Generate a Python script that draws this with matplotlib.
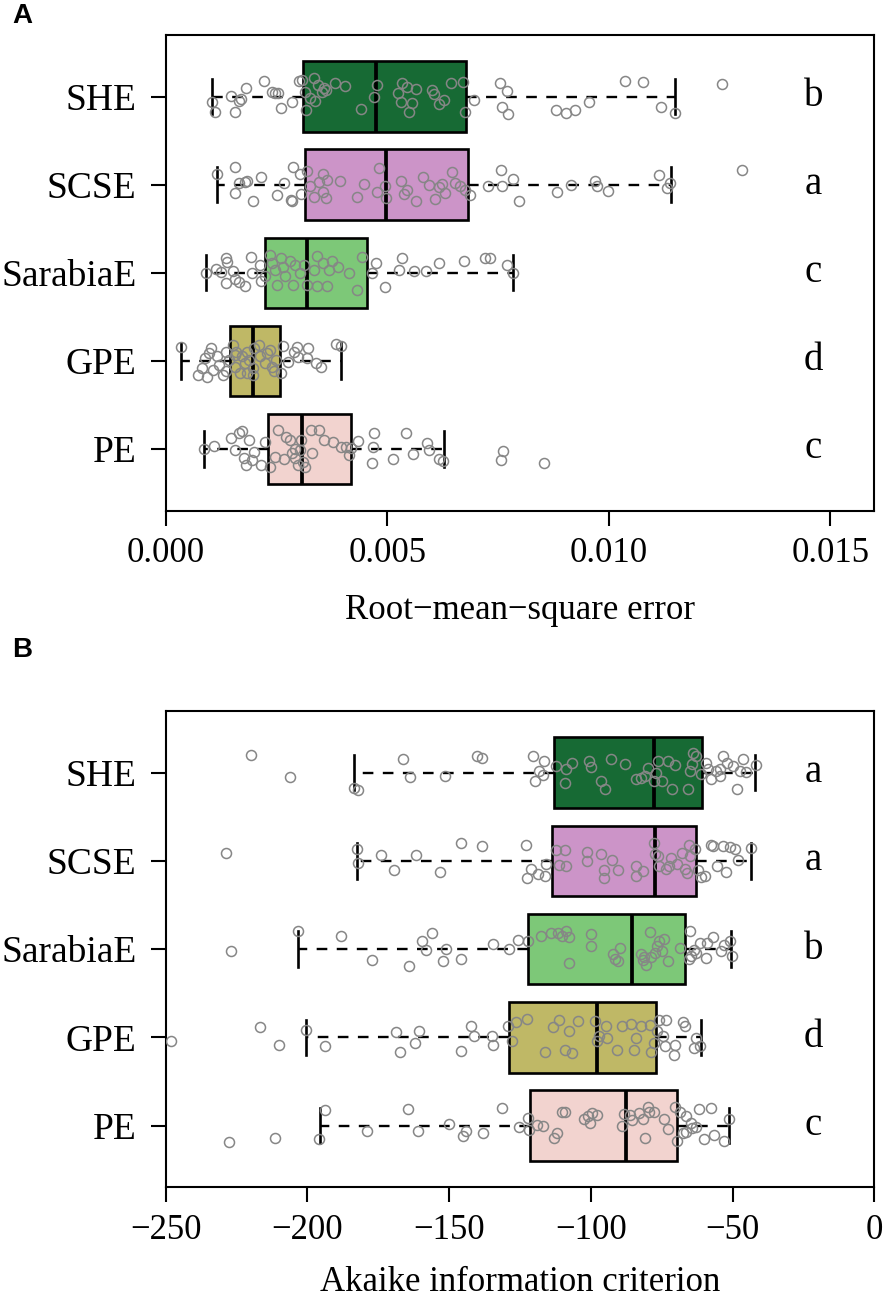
import matplotlib
matplotlib.use("Agg")
import matplotlib.pyplot as plt
from matplotlib.ticker import FormatStrFormatter, MultipleLocator

plt.rcParams['font.family'] = ['Liberation Serif', 'DejaVu Serif']

categories = ["SHE", "SCSE", "SarabiaE", "GPE", "PE"]
box_colors = ["#176a34", "#cc94c8", "#7dc878", "#bfb866", "#f2d3cf"]

# ---- panel A: RMSE, box stats (whislo, q1, med, q3, whishi) ----
rmse_stats = {
    "SHE": (0.00105, 0.00311, 0.00474, 0.00677, 0.01149),
    "SCSE": (0.00115, 0.00314, 0.00497, 0.00683, 0.01141),
    "SarabiaE": (0.00091, 0.00224, 0.00320, 0.00455, 0.00783),
    "GPE": (0.00035, 0.00146, 0.00196, 0.00259, 0.00396),
    "PE": (0.00087, 0.00231, 0.00308, 0.00418, 0.00628),
}
rmse_letters = ["b", "a", "c", "d", "c"]

rmse_she = [0.00105, 0.00112, 0.00147, 0.00157, 0.00165, 0.0017, 0.00181, 0.00222, 0.00241, 0.00246,
            0.00253, 0.0026, 0.00286, 0.00302, 0.00307, 0.00314, 0.00317, 0.00325, 0.00335, 0.00338,
            0.00343, 0.00353, 0.00358, 0.00363, 0.00382, 0.00405, 0.0044, 0.00471, 0.00476, 0.00524,
            0.00531, 0.00534, 0.00544, 0.0055, 0.00555, 0.00565, 0.00602, 0.00605, 0.00618, 0.00628,
            0.00644, 0.00672, 0.00675, 0.00696, 0.00754, 0.0077, 0.00759, 0.00773, 0.00882, 0.00903,
            0.00925, 0.00956, 0.01037, 0.01078, 0.01118, 0.01149, 0.01256]
rmse_she_jit = [-0.057, -0.17, 0.008, -0.17, -0.045, -0.03, 0.095, 0.18, 0.057, 0.045,
                0.045, -0.125, -0.06, 0.18, 0.19, 0.057, -0.15, -0.02, 0.21, -0.045,
                0.13, 0.057, 0.095, 0.076, 0.16, 0.12, -0.144, 0.0, 0.13, 0.038,
                -0.057, 0.16, 0.114, -0.17, -0.076, 0.083, 0.076, 0.027, -0.083, -0.038,
                0.16, 0.17, -0.17, -0.038, 0.16, 0.064, -0.12, -0.2, -0.15, -0.19,
                -0.15, -0.057, 0.18, 0.17, -0.114, -0.19, 0.14]

rmse_scse = [0.00115, 0.00157, 0.00157, 0.00165, 0.00178, 0.00183, 0.00197, 0.00215, 0.00251, 0.00267,
             0.00283, 0.00286, 0.00288, 0.00304, 0.00306, 0.0032, 0.00325, 0.00335, 0.00346, 0.00354,
             0.00356, 0.00361, 0.00364, 0.00393, 0.00431, 0.00447, 0.00476, 0.00482, 0.00494, 0.00497,
             0.00531, 0.00539, 0.00544, 0.00565, 0.00581, 0.00594, 0.00607, 0.00618, 0.00623, 0.0063,
             0.00647, 0.00654, 0.00665, 0.00675, 0.00686, 0.00728, 0.00757, 0.00759, 0.00783, 0.00798,
             0.00883, 0.00915, 0.00968, 0.00974, 0.00999, 0.01113, 0.01131, 0.01139, 0.0130]
rmse_scse_jit = [0.12, 0.2, -0.09, 0.015, 0.034, 0.045, -0.19, 0.09, -0.12, 0.015,
                 -0.17, -0.19, 0.2, 0.12, -0.1, 0.16, -0.015, -0.14, 0.034, 0.12,
                 -0.08, -0.155, 0.053, 0.045, -0.14, 0.008, -0.08, 0.19, -0.015, -0.155,
                 0.045, -0.1, -0.06, -0.19, 0.09, 0.0, -0.165, -0.023, 0.008, -0.09,
                 0.15, 0.015, -0.015, -0.06, -0.12, -0.015, 0.17, -0.015, 0.06, -0.19,
                 -0.08, 0.0, 0.045, -0.015, -0.068, 0.11, -0.04, 0.015, 0.167]

rmse_sarabia = [0.00091, 0.00113, 0.00136, 0.00139, 0.00136, 0.00152, 0.00157, 0.00165, 0.00178, 0.00192,
                0.00212, 0.00215, 0.00236, 0.00239, 0.00251, 0.0026, 0.00264, 0.0027, 0.00281, 0.00288,
                0.00304, 0.00312, 0.00319, 0.00335, 0.00341, 0.00342, 0.00356, 0.00364, 0.00368, 0.00375,
                0.0039, 0.00414, 0.00431, 0.00443, 0.00466, 0.00474, 0.00495, 0.00526, 0.00534, 0.0056,
                0.00588, 0.00616, 0.00673, 0.0072, 0.00731, 0.0077, 0.00785, 0.00225, 0.00246, 0.00293,
                0.00194, 0.00124]
rmse_sarabia_jit = [0.0, 0.04, 0.17, 0.12, -0.12, 0.015, -0.07, -0.1, -0.155, 0.185,
                    0.09, -0.09, 0.2, 0.11, -0.135, 0.17, 0.07, -0.04, 0.13, -0.135,
                    0.0, 0.09, -0.135, 0.035, 0.19, -0.155, 0.11, -0.145, 0.035, 0.13,
                    0.07, 0.0, -0.19, 0.185, 0.0, 0.11, -0.165, 0.035, 0.17, 0.015,
                    0.015, 0.11, 0.13, 0.17, 0.165, 0.09, 0.0, -0.04, 0.035, 0.09,
                    0.0, 0.008]

rmse_gpe = [0.000345, 0.00073, 0.00082, 0.00089, 0.00094, 0.00097, 0.00103, 0.00107, 0.0012, 0.00129,
            0.00136, 0.00144, 0.00152, 0.00157, 0.00159, 0.00168, 0.00173, 0.00178, 0.00183, 0.00188,
            0.00196, 0.00196, 0.00199, 0.0021, 0.00213, 0.00236, 0.00241, 0.00244, 0.00249, 0.0026,
            0.00264, 0.00277, 0.0029, 0.00296, 0.00298, 0.00319, 0.00322, 0.0034, 0.00351, 0.00385,
            0.00396, 0.00157, 0.00136, 0.00225, 0.00115, 0.00183, 0.00228]
rmse_gpe_jit = [0.155, -0.16, -0.083, 0.03, -0.18, 0.087, 0.144, -0.1, -0.045, -0.16,
                0.106, 0.011, 0.18, -0.064, 0.106, -0.14, 0.05, -0.027, 0.106, 0.011,
                -0.083, -0.16, 0.144, 0.18, 0.05, 0.125, -0.064, -0.12, 0.011, -0.14,
                0.17, -0.008, 0.106, 0.155, 0.042, 0.03, 0.144, -0.027, -0.072, 0.19,
                0.17, 0.068, -0.12, -0.027, 0.05, -0.14, 0.087]

rmse_pe = [0.00087, 0.0011, 0.00147, 0.00157, 0.00165, 0.00173, 0.00176, 0.00181, 0.00188, 0.00194,
           0.00215, 0.00225, 0.00236, 0.00254, 0.00267, 0.00272, 0.00281, 0.00286, 0.00293, 0.00298,
           0.00304, 0.00306, 0.00309, 0.00328, 0.0033, 0.00346, 0.00358, 0.00377, 0.00396, 0.00406,
           0.00414, 0.00419, 0.00434, 0.00466, 0.00469, 0.00471, 0.00513, 0.00542, 0.00558, 0.00591,
           0.00594, 0.00618, 0.00626, 0.00762, 0.00757, 0.00853, 0.00293, 0.00314, 0.00246, 0.00199]
rmse_pe_jit = [0.0, 0.034, 0.12, -0.011, 0.18, 0.2, -0.106, -0.18, 0.1, -0.125,
               -0.18, 0.083, -0.2, 0.21, -0.118, 0.133, 0.1, -0.05, -0.106, -0.18,
               -0.011, 0.1, -0.144, 0.21, -0.05, 0.21, 0.1, 0.083, 0.019, 0.027,
               -0.068, 0.008, 0.095, -0.163, 0.027, 0.18, -0.118, 0.18, -0.057, 0.064,
               -0.011, -0.118, -0.133, -0.019, -0.125, -0.163, 0.0, -0.2, -0.087, -0.03]

# ---- panel B: AIC ----
aic_stats = {
    "SHE": (-183.6, -113.0, -77.9, -60.8, -42.2),
    "SCSE": (-182.5, -113.8, -77.5, -62.9, -43.7),
    "SarabiaE": (-203.5, -122.3, -85.7, -67.0, -50.7),
    "GPE": (-200.4, -128.8, -97.9, -77.2, -61.3),
    "PE": (-195.5, -121.5, -87.8, -69.7, -51.2),
}
aic_letters = ["a", "a", "b", "d", "c"]

aic_she = [-219.9, -206.1, -183.6, -182.0, -166.2, -163.8, -151.6, -140.2, -138.5, -120.6,
           -119.8, -118.2, -116.9, -116.6, -112.5, -109.3, -108.8, -106.8, -100.6, -100.0,
           -96.3, -95.2, -93.1, -88.1, -84.1, -82.4, -80.8, -80.0, -77.9, -77.2,
           -76.2, -75.1, -72.7, -71.4, -70.2, -65.7, -65.0, -64.5, -64.1, -62.9,
           -61.2, -59.3, -57.7, -56.0, -54.6, -53.3, -52.1, -50.0, -48.4, -47.3,
           -46.5, -45.3, -41.7, -58.8, -54.6]
aic_she_jit = [0.197, -0.045, -0.17, -0.197, 0.16, -0.045, -0.038, 0.19, 0.17, 0.19,
               -0.095, 0.019, -0.03, 0.13, 0.076, -0.114, 0.045, 0.114, 0.13, 0.068,
               -0.095, -0.18, 0.16, 0.095, -0.068, -0.057, -0.038, 0.057, -0.095, 0.0,
               0.13, -0.095, 0.13, -0.18, 0.083, -0.18, 0.019, 0.095, 0.227, 0.19,
               -0.019, 0.114, -0.076, 0.019, 0.045, 0.19, 0.114, 0.076, -0.18, 0.019,
               0.15, 0.008, 0.083, 0.038, -0.038]

aic_scse = [-228.8, -182.5, -182.0, -173.9, -169.5, -161.8, -153.4, -145.9, -138.5, -122.8,
            -122.4, -121.1, -118.6, -116.2, -115.7, -112.2, -111.4, -109.3, -108.8, -101.5,
            -101.5, -96.3, -95.4, -95.4, -92.5, -90.6, -84.1, -84.1, -81.6, -77.9,
            -77.5, -76.2, -75.9, -73.5, -71.9, -69.7, -67.8, -67.0, -66.2, -65.4,
            -65.0, -63.4, -62.2, -61.1, -59.8, -57.7, -56.9, -55.6, -53.3, -52.5,
            -50.8, -49.1, -48.3, -43.7, -72.4]
aic_scse_jit = [0.09, 0.136, -0.023, 0.072, -0.106, 0.072, -0.129, 0.2, 0.167, 0.186,
                -0.19, -0.09, -0.144, -0.167, -0.03, 0.129, -0.042, 0.129, -0.053, 0.098,
                -0.004, 0.083, -0.19, -0.098, 0.008, -0.106, -0.174, -0.053, -0.117, 0.2,
                0.083, 0.053, -0.053, -0.091, 0.034, -0.03, 0.09, -0.091, -0.136, 0.186,
                0.053, 0.136, -0.098, -0.18, -0.174, 0.186, 0.167, -0.06, 0.167, -0.129,
                0.159, 0.136, 0.015, 0.148, -0.06]

aic_sarabia = [-226.9, -203.5, -188.2, -177.1, -164.3, -159.7, -158.1, -156.0, -152.1, -151.1,
               -145.9, -134.4, -128.8, -125.6, -122.3, -117.5, -114.2, -111.8, -110.2, -108.8,
               -107.7, -107.7, -100.0, -100.0, -92.2, -91.4, -90.6, -89.7, -82.4, -81.6,
               -81.2, -80.5, -79.2, -78.9, -77.5, -76.7, -75.9, -75.1, -74.3, -72.7,
               -68.6, -65.4, -64.9, -64.6, -63.8, -63.0, -61.4, -59.5, -59.0, -56.8,
               -54.0, -52.9, -50.8, -50.4]
aic_sarabia_jit = [-0.025, 0.2, 0.15, -0.12, -0.19, 0.09, -0.005, 0.18, -0.14, 0.002,
                   -0.11, 0.06, 0.002, 0.1, 0.09, 0.146, 0.18, 0.18, 0.146, 0.2,
                   0.135, -0.157, 0.175, 0.03, -0.06, -0.11, -0.13, 0.013, -0.06, -0.12,
                   -0.09, -0.18, 0.19, -0.09, -0.043, 0.03, 0.09, -0.025, 0.115, -0.13,
                   0.013, -0.11, 0.2, -0.08, -0.005, -0.043, 0.07, -0.1, 0.07, 0.138,
                   -0.025, 0.05, 0.09, -0.075]

aic_gpe = [-248.0, -216.6, -210.1, -200.4, -193.9, -168.6, -167.3, -162.1, -160.5, -145.9,
           -142.3, -141.3, -134.8, -134.5, -129.3, -128.0, -126.4, -122.6, -116.2, -113.3,
           -111.3, -109.3, -107.7, -106.8, -104.4, -98.7, -97.9, -97.1, -94.6, -94.2,
           -90.9, -88.9, -86.0, -84.8, -84.1, -79.2, -78.9, -77.9, -76.7, -75.9,
           -74.6, -74.0, -73.5, -70.7, -70.2, -67.5, -67.0, -63.8, -63.0, -61.4,
           -82.4]
aic_gpe_jit = [-0.045, 0.114, -0.083, 0.087, -0.095, 0.057, -0.17, -0.064, 0.068, -0.16,
               0.125, 0.011, 0.011, -0.09, 0.133, -0.045, 0.17, 0.21, -0.17, 0.117,
               0.2, -0.14, 0.068, -0.178, 0.18, 0.18, -0.045, 0.011, 0.125, -0.008,
               -0.14, 0.125, 0.155, -0.148, -0.008, 0.144, -0.17, -0.064, 0.068, 0.2,
               0.011, -0.1, 0.2, -0.197, -0.083, 0.17, 0.133, -0.12, -0.008, -0.1,
               0.125]

aic_pe = [-227.7, -211.4, -195.8, -193.9, -178.9, -164.6, -161.0, -149.9, -145.0, -143.9,
          -138.1, -131.3, -125.5, -122.3, -121.8, -119.0, -116.9, -113.0, -112.0, -110.2,
          -109.3, -102.3, -101.1, -100.3, -99.5, -97.9, -89.2, -88.4, -86.4, -85.6,
          -83.2, -81.6, -80.8, -80.0, -79.4, -77.8, -74.2, -72.9, -70.2, -69.7,
          -68.5, -67.7, -66.4, -64.7, -64.4, -63.1, -62.0, -60.3, -57.8, -56.6,
          -53.1, -51.2, -66.4]
aic_pe_jit = [-0.19, -0.136, -0.15, 0.178, -0.057, 0.185, -0.057, 0.019, -0.117, -0.057,
              -0.08, 0.2, -0.011, 0.083, -0.049, 0.008, -0.004, -0.144, -0.08, 0.148,
              0.159, 0.072, 0.11, 0.034, 0.14, 0.121, -0.004, 0.133, 0.121, 0.064,
              0.14, 0.072, -0.144, 0.208, 0.159, 0.148, 0.072, -0.042, 0.208, -0.17,
              0.159, -0.08, 0.11, 0.034, -0.03, -0.011, 0.185, -0.155, 0.197, -0.106,
              -0.18, 0.072, -0.068]

rmse_points = [(rmse_she, rmse_she_jit), (rmse_scse, rmse_scse_jit), (rmse_sarabia, rmse_sarabia_jit),
               (rmse_gpe, rmse_gpe_jit), (rmse_pe, rmse_pe_jit)]
aic_points = [(aic_she, aic_she_jit), (aic_scse, aic_scse_jit), (aic_sarabia, aic_sarabia_jit),
              (aic_gpe, aic_gpe_jit), (aic_pe, aic_pe_jit)]


def draw_panel(ax, stats, points, letters, xlim, xlabel, labelpad):
    positions = list(range(len(categories), 0, -1))  # SHE on top
    bstats = []
    for c in categories:
        lo, q1, med, q3, hi = stats[c]
        bstats.append(dict(whislo=lo, q1=q1, med=med, q3=q3, whishi=hi, fliers=[]))
    bp = ax.bxp(bstats, positions=positions, widths=0.8, orientation='horizontal',
                patch_artist=True, showfliers=False,
                boxprops=dict(edgecolor='black', linewidth=1.9),
                medianprops=dict(color='black', linewidth=2.7),
                whiskerprops=dict(color='black', linewidth=1.7, linestyle=(0, (4.5, 4))),
                capprops=dict(color='black', linewidth=1.9),
                capwidths=0.4)
    for patch, col in zip(bp['boxes'], box_colors):
        patch.set_facecolor(col)
    for pos, (vals, jit) in zip(positions, points):
        ys = [pos + j for j in jit]
        ax.plot(vals, ys, 'o', ms=7.2, mfc='none', mec='#868686', mew=1.1, zorder=5)
    for pos, let in zip(positions, letters):
        ax.text(0.914, pos, let, transform=ax.get_yaxis_transform(), ha='center', va='center',
                fontsize=28)
    ax.set_xlim(*xlim)
    ax.set_ylim(0.3, 5.7)
    ax.set_yticks(positions)
    ax.set_yticklabels(categories, fontsize=27)
    ax.tick_params(axis='x', labelsize=25, length=11, width=1.5, pad=8)
    ax.tick_params(axis='y', length=11, width=1.5, pad=10)
    ax.set_xlabel(xlabel, fontsize=25, labelpad=labelpad)
    for sp in ax.spines.values():
        sp.set_linewidth(1.5)


fig = plt.figure(figsize=(8.86, 13), dpi=100)
ax_a = fig.add_axes([0.187, 0.6072, 0.800, 0.3659])
ax_b = fig.add_axes([0.187, 0.0867, 0.800, 0.3664])

draw_panel(ax_a, rmse_stats, rmse_points, rmse_letters, (0, 0.016),
           "Root\u2212mean\u2212square error", 17)
ax_a.xaxis.set_major_locator(MultipleLocator(0.005))
ax_a.xaxis.set_major_formatter(FormatStrFormatter('%.3f'))

draw_panel(ax_b, aic_stats, aic_points, aic_letters, (-250, 0), "Akaike information criterion", 14)
ax_b.xaxis.set_major_locator(MultipleLocator(50))

fig.text(0.014, 1 - 16 / 1300, "A", fontsize=20, fontweight='bold', family='Liberation Sans',
         ha='left', va='center')
fig.text(0.014, 1 - 650 / 1300, "B", fontsize=20, fontweight='bold', family='Liberation Sans',
         ha='left', va='center')

fig.savefig("out.png", dpi=100)
plt.close(fig)
